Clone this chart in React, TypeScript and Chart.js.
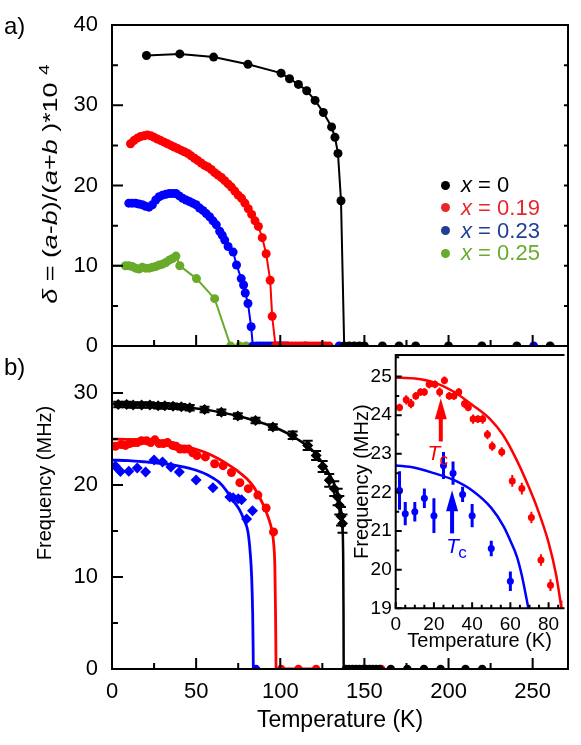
import React, { useEffect, useRef } from "react";
import { Chart, registerables } from "chart.js";
Chart.register(...registerables);

const FONT = '"Liberation Sans", Arial, sans-serif';

// ---------- axis ticks ----------
const tempTicks = [0, 50, 100, 150, 200, 250];
const tempMinorTicks = [25, 75, 125, 175, 225];
const deltaTicks = [0, 10, 20, 30, 40];
const deltaMinorTicks = [5, 15, 25, 35];
const freqTicks = [0, 10, 20, 30];
const freqMinorTicks = [5, 15, 25];
const insetTempTicks = [0, 20, 40, 60, 80];
const insetTempMinorTicks = [5, 10, 15, 25, 30, 35, 45, 50, 55, 65, 70, 75, 85];
const insetFreqTicks = [19, 20, 21, 22, 23, 24, 25];
const insetFreqMinorTicks = [19.5, 20.5, 21.5, 22.5, 23.5, 24.5, 25.5];

// ---------- panel a : distortion delta ----------
const aBlackT = [20.5, 40.3, 60.4, 80.8, 100.5, 105.5, 110.8, 115.7, 120.7, 125.6, 130.5, 132.5, 134.3, 136.1, 138, 141, 144, 147, 150, 160.7, 170.6, 180.5, 200, 219.8, 240.6, 260.4];
const aBlackV = [36.2, 36.4, 36.0, 35.1, 34.0, 33.3, 32.6, 31.8, 30.6, 29.1, 27.3, 26.0, 24.0, 18.1, 0, 0, 0, 0, 0, 0, 0, 0, 0, 0, 0, 0];

const aRedT = [11, 13, 15, 17, 19, 21, 23, 25, 27, 29, 31, 33, 35, 37, 39, 41, 43, 45, 47, 49, 51, 53, 55, 57, 59, 61, 63, 65, 67, 69, 71, 73, 75, 77, 79, 81, 83, 85, 87, 89.3, 91.6, 94, 95.2, 97.2, 99, 101, 103, 105, 107, 109, 111, 113, 115, 117, 119, 121, 123, 125, 127, 129];
const aRedV = [25.2, 25.6, 25.9, 26.1, 26.2, 26.3, 26.2, 26.0, 25.8, 25.6, 25.4, 25.2, 25.0, 24.8, 24.6, 24.4, 24.2, 24.0, 23.7, 23.4, 23.1, 22.8, 22.5, 22.3, 22.0, 21.6, 21.3, 21.0, 20.6, 20.2, 19.8, 19.3, 18.8, 18.4, 17.8, 17.1, 16.4, 15.6, 14.9, 13.5, 11.5, 8.2, 3.7, 0, 0, 0, 0, 0, 0, 0, 0, 0, 0, 0, 0, 0, 0, 0, 0, 0];

const aBlueT = [10, 12, 14, 16, 18, 20, 22, 24, 26, 28, 30, 32, 34, 36, 38, 40, 42, 44, 46, 48, 50, 52, 54, 56, 58, 60, 62, 64, 65.5, 67, 69, 72, 74, 76.8, 78.2, 79.2, 80.8, 82.7, 83.7, 86, 88, 90, 92, 94, 96, 98, 100, 102, 104, 115, 125, 135, 250.6];
const aBlueV = [17.8, 17.8, 17.8, 17.7, 17.6, 17.4, 17.3, 17.6, 18.2, 18.6, 18.8, 18.9, 19.0, 19.0, 19.0, 18.7, 18.4, 18.2, 18.0, 17.8, 17.6, 17.2, 16.9, 16.5, 16.1, 15.6, 15.1, 14.3, 13.8, 13.2, 12.4, 11.7, 10.1, 8.4, 7.6, 6.6, 5.3, 2.4, 0, 0, 0, 0, 0, 0, 0, 0, 0, 0, 0, 0, 0, 0, 0];

const aGreenT = [0, 8, 10, 12, 14, 16, 18, 20, 22, 24, 26, 28, 30, 32, 34, 36, 38, 40.3, 50.2, 61, 70.5, 75.8, 79.7];
const aGreenV = [10, 10.0, 10.0, 9.9, 9.7, 9.6, 9.8, 9.7, 9.7, 9.8, 9.9, 10.1, 10.2, 10.4, 10.7, 10.9, 11.2, 10.0, 8.4, 5.9, 0, 0, 0];

// ---------- panel b : muon precession frequency ----------
const bBlackT = [3.7, 8.7, 12.6, 17.6, 22.5, 27.4, 31.4, 36.3, 41.2, 46.2, 55, 65, 74.8, 85.3, 95.6, 107.4, 116.3, 121.3, 125.2, 129.1, 132.1, 134.1, 135.1, 136.1, 137];
const bBlackV = [28.75, 28.75, 28.7, 28.7, 28.7, 28.6, 28.6, 28.55, 28.5, 28.4, 28.2, 27.9, 27.5, 27.0, 26.3, 25.4, 24.3, 23.2, 22.0, 20.5, 19.6, 18.7, 17.8, 16.6, 15.8];
const bBlackErr = [0.3, 0.3, 0.3, 0.3, 0.3, 0.3, 0.3, 0.3, 0.3, 0.3, 0.3, 0.3, 0.3, 0.3, 0.3, 0.4, 0.5, 0.5, 0.6, 0.7, 0.8, 0.9, 1.0, 1.0, 1.0];

const bRedT = [2, 5.5, 8, 10.5, 13, 15, 17.5, 20.5, 23, 25.5, 28, 30.5, 33, 36, 38, 40.5, 43, 45.5, 48, 50.5, 55.5, 61, 66, 71, 76, 81, 86.7, 91.6, 96];
const bRedV = [24.2, 24.4, 24.3, 24.5, 24.6, 24.6, 24.8, 24.8, 24.6, 24.9, 24.5, 24.5, 24.6, 24.3, 24.2, 23.9, 23.9, 23.9, 23.5, 23.2, 23.05, 22.3, 22.1, 21.35, 20.25, 19.6, 18.9, 17.5, 14.9];
const bRedErr = [0.1, 0.12, 0.12, 0.1, 0.1, 0.1, 0.1, 0.1, 0.12, 0.1, 0.1, 0.1, 0.1, 0.12, 0.1, 0.12, 0.1, 0.12, 0.12, 0.12, 0.12, 0.15, 0.15, 0.15, 0.15, 0.15, 0.3, 0.3, 0.4];

const bBlueT = [2, 5, 10, 15, 20, 25, 30, 35, 40, 50, 60, 70, 72, 75, 77, 80, 83.5];
const bBlueV = [22.05, 21.45, 21.5, 21.85, 21.4, 22.7, 22.5, 21.95, 21.4, 20.55, 19.7, 18.7, 18.6, 18.5, 18.4, 16.3, 17.2];
const bBlueErr = [0.5, 0.3, 0.25, 0.25, 0.45, 0.35, 0.3, 0.2, 0.3, 0.2, 0.25, 0.3, 0.3, 0.3, 0.3, 0.4, 0.4];

const bBlackZeroT = [139, 141, 143, 145, 147, 149, 151, 153, 155, 157, 159, 165.7, 175.5, 185.4, 195.3, 210.1, 220];
const bBlackZeroV = [0, 0, 0, 0, 0, 0, 0, 0, 0, 0, 0, 0, 0, 0, 0, 0, 0];
const bRedZeroT = [100.5, 110.8, 121.3, 160];
const bRedZeroV = [0, 0, 0, 0];
const bBlueZeroT = [85.5];
const bBlueZeroV = [0];

// fitted order-parameter curves
const blackFitT = [0, 20, 40, 60, 80, 100, 110, 120, 125, 130, 133, 135, 136.3, 137, 137.4, 137.6, 137.7, 160];
const blackFitV = [28.8, 28.75, 28.5, 28.05, 27.25, 26.0, 25.0, 23.6, 22.4, 20.9, 19.6, 18.4, 17.0, 15.5, 12, 6, 0, 0];
const redFitT = [0, 10, 20, 30, 40, 50, 56, 63, 70, 74, 80, 84, 86.7, 90, 93, 95, 96, 96.8, 97.2, 97.4, 97.5, 122];
const redFitV = [24.98, 24.95, 24.85, 24.62, 24.27, 23.87, 23.5, 22.87, 22.1, 21.6, 20.7, 19.85, 19.0, 17.8, 16.4, 15.1, 13.8, 11, 6, 2, 0, 0];
const blueFitT = [0, 10, 20, 30, 40, 50, 56.6, 60, 63.4, 66, 69.4, 72, 75.8, 78.5, 80.8, 82.2, 83, 83.6, 83.9, 84, 88];
const blueFitV = [22.7, 22.64, 22.5, 22.33, 22.05, 21.6, 21.11, 20.75, 20.34, 19.85, 19.0, 18.3, 17.3, 16.2, 14.9, 12.5, 10, 6, 2, 0, 0];

// Tc markers in the inset (temperature, arrow base, arrow tip, label position)
const tcRed = { t: 23.6, base: 23.32, tip: 24.44, labelT: 16.7, labelF: 22.84 };
const tcBlue = { t: 29.5, base: 20.94, tip: 22.06, labelT: 26.5, labelF: 20.42 };

const legendItems = [
  { value: "0", color: "#000000", text: "#000000" },
  { value: "0.19", color: "#e8262b", text: "#e8262b" },
  { value: "0.23", color: "#1d3f94", text: "#1d3f94" },
  { value: "0.25", color: "#6aab2e", text: "#6aab2e" },
];

const RED = "#ff0000";
const BLUE = "#0000ff";
const GREEN = "#6aaa2a";
const BLACK = "#000000";

function pts(xs: number[], ys: number[]) {
  return xs.map((x, i) => ({ x, y: ys[i] }));
}

type TickSpec = { scale: string; side: string; values: number[]; len: number };

function framePlugin(sides: string[], ticks: TickSpec[], width: number) {
  return {
    id: "frame",
    afterDatasetsDraw(chart: any) {
      const { ctx, chartArea: ca, scales } = chart;
      ctx.save();
      ctx.strokeStyle = "#000";
      ctx.lineWidth = width;
      ctx.lineCap = "butt";
      ctx.beginPath();
      for (const t of ticks) {
        const sc = scales[t.scale];
        for (const v of t.values) {
          const p = sc.getPixelForValue(v);
          if (t.side === "left") { ctx.moveTo(ca.left, p); ctx.lineTo(ca.left + t.len, p); }
          else if (t.side === "right") { ctx.moveTo(ca.right, p); ctx.lineTo(ca.right - t.len, p); }
          else if (t.side === "bottom") { ctx.moveTo(p, ca.bottom); ctx.lineTo(p, ca.bottom - t.len); }
          else { ctx.moveTo(p, ca.top); ctx.lineTo(p, ca.top + t.len); }
        }
      }
      ctx.stroke();
      ctx.lineCap = "square";
      ctx.beginPath();
      if (sides.includes("top")) { ctx.moveTo(ca.left, ca.top); ctx.lineTo(ca.right, ca.top); }
      if (sides.includes("bottom")) { ctx.moveTo(ca.left, ca.bottom); ctx.lineTo(ca.right, ca.bottom); }
      if (sides.includes("left")) { ctx.moveTo(ca.left, ca.top); ctx.lineTo(ca.left, ca.bottom); }
      if (sides.includes("right")) { ctx.moveTo(ca.right, ca.top); ctx.lineTo(ca.right, ca.bottom); }
      ctx.stroke();
      ctx.restore();
    },
  };
}

const errorBarPlugin = {
  id: "errbars",
  beforeDatasetsDraw(chart: any) {
    const { ctx, chartArea: ca } = chart;
    ctx.save();
    ctx.beginPath();
    ctx.rect(ca.left, ca.top, ca.right - ca.left, ca.bottom - ca.top);
    ctx.clip();
    chart.data.datasets.forEach((ds: any, i: number) => {
      if (!ds.errors) return;
      const meta = chart.getDatasetMeta(i);
      const xs = chart.scales[meta.xAxisID];
      const ys = chart.scales[meta.yAxisID];
      ctx.strokeStyle = ds.borderColor;
      ctx.lineWidth = ds.errWidth || 1.5;
      ctx.lineCap = "butt";
      ds.data.forEach((p: any, j: number) => {
        const e = ds.errors[j];
        if (!e) return;
        const px = xs.getPixelForValue(p.x);
        const y1 = ys.getPixelForValue(p.y + e);
        const y2 = ys.getPixelForValue(p.y - e);
        ctx.beginPath();
        ctx.moveTo(px, y1);
        ctx.lineTo(px, y2);
        if (ds.errCap) {
          ctx.moveTo(px - ds.errCap, y1); ctx.lineTo(px + ds.errCap, y1);
          ctx.moveTo(px - ds.errCap, y2); ctx.lineTo(px + ds.errCap, y2);
        }
        ctx.stroke();
      });
    });
    ctx.restore();
  },
};

const whiteBgPlugin = {
  id: "whitebg",
  beforeDraw(chart: any) {
    const { ctx, width, height } = chart;
    ctx.save();
    ctx.fillStyle = "#ffffff";
    ctx.fillRect(0, 0, width, height);
    ctx.restore();
  },
};

function tcPlugin(items: { t: number; base: number; tip: number; labelT: number; labelF: number; color: string }[]) {
  return {
    id: "tc",
    afterDatasetsDraw(chart: any) {
      const { ctx } = chart;
      const x = chart.scales.x;
      const y = chart.scales.y;
      ctx.save();
      for (const it of items) {
        const px = x.getPixelForValue(it.t);
        const pb = y.getPixelForValue(it.base);
        const pt = y.getPixelForValue(it.tip);
        ctx.strokeStyle = it.color;
        ctx.fillStyle = it.color;
        ctx.lineWidth = 4;
        ctx.beginPath();
        ctx.moveTo(px, pb);
        ctx.lineTo(px, pt + 18);
        ctx.stroke();
        ctx.beginPath();
        ctx.moveTo(px, pt);
        ctx.lineTo(px - 6, pt + 21);
        ctx.lineTo(px + 6, pt + 21);
        ctx.closePath();
        ctx.fill();
        const lx = x.getPixelForValue(it.labelT);
        const ly = y.getPixelForValue(it.labelF);
        ctx.textBaseline = "alphabetic";
        ctx.textAlign = "left";
        ctx.font = `italic 21px ${FONT}`;
        ctx.fillText("T", lx, ly);
        const w = ctx.measureText("T").width;
        ctx.font = `17px ${FONT}`;
        ctx.fillText("c", lx + w - 1, ly + 5);
      }
      ctx.restore();
    },
  };
}

function fixedY(width: number, ticks: number[]) {
  return {
    afterFit: (s: any) => { s.width = width; s.paddingTop = 0; s.paddingBottom = 0; },
    afterBuildTicks: (s: any) => { s.ticks = ticks.map((v) => ({ value: v })); },
  };
}
function fixedX(height: number, ticks: number[]) {
  return {
    afterFit: (s: any) => { s.height = height; s.paddingLeft = 0; s.paddingRight = 0; },
    afterBuildTicks: (s: any) => { s.ticks = ticks.map((v) => ({ value: v })); },
  };
}

function pointSet(label: string, T: number[], V: number[], color: string, radius: any, extra: any = {}) {
  return {
    label,
    data: pts(T, V),
    showLine: true,
    borderColor: color,
    backgroundColor: color,
    pointBackgroundColor: color,
    pointBorderWidth: 0,
    pointRadius: radius,
    pointHoverRadius: radius,
    borderWidth: 2,
    tension: 0,
    clip: 0,
    ...extra,
  };
}

function fitSet(label: string, T: number[], V: number[], color: string, width: number) {
  return {
    label,
    data: pts(T, V),
    showLine: true,
    borderColor: color,
    backgroundColor: color,
    pointRadius: 0,
    pointHoverRadius: 0,
    borderWidth: width,
    cubicInterpolationMode: "monotone",
    clip: 0,
  };
}

const tickFont = (size: number) => ({ family: FONT, size });
const noGrid = { display: false, drawTicks: false };

export default function App() {
  const refA = useRef<HTMLCanvasElement>(null);
  const refB = useRef<HTMLCanvasElement>(null);
  const refI = useRef<HTMLCanvasElement>(null);

  useEffect(() => {
    const greenRadius = aGreenT.map((_, i) => (i === 0 ? 0 : 4.5));
    const chartA = new Chart(refA.current!, {
      type: "scatter",
      data: {
        datasets: [
          pointSet("x = 0", aBlackT, aBlackV, BLACK, 4.5),
          pointSet("x = 0.19", aRedT, aRedV, RED, 4.5),
          pointSet("x = 0.23", aBlueT, aBlueV, BLUE, 4.5),
          pointSet("x = 0.25", aGreenT, aGreenV, GREEN, greenRadius),
        ] as any,
      },
      options: {
        animation: false,
        responsive: false,
        devicePixelRatio: 1,
        events: [],
        layout: { padding: { top: 25, bottom: 14, left: 0, right: 13 } },
        plugins: { legend: { display: false }, tooltip: { enabled: false } },
        scales: {
          x: { type: "linear", min: 0, max: 271, display: false },
          y: {
            type: "linear", min: 0, max: 40,
            ...fixedY(112, deltaTicks),
            grid: noGrid, border: { display: false },
            ticks: { padding: 14, color: "#000", font: tickFont(22) },
          },
        },
      } as any,
      plugins: [
        framePlugin(["top", "left", "bottom", "right"], [
          { scale: "y", side: "left", values: deltaTicks, len: 11 },
          { scale: "y", side: "left", values: deltaMinorTicks, len: 6 },
          { scale: "y", side: "right", values: deltaTicks.concat(deltaMinorTicks), len: 4 },
          { scale: "x", side: "bottom", values: tempTicks, len: 11 },
          { scale: "x", side: "bottom", values: tempMinorTicks, len: 6 },
        ], 2),
      ],
    });

    const chartB = new Chart(refB.current!, {
      type: "scatter",
      data: {
        datasets: [
          pointSet("x = 0 data", bBlackT, bBlackV, BLACK, 5.5, { showLine: false, pointStyle: "rectRot", errors: bBlackErr, errWidth: 2, errCap: 5 }),
          fitSet("x = 0 fit", blackFitT, blackFitV, BLACK, 2.5),
          pointSet("x = 0.19 data", bRedT, bRedV, RED, 4.5, { showLine: false, errors: bRedErr, errWidth: 2 }),
          fitSet("x = 0.19 fit", redFitT, redFitV, RED, 2.8),
          pointSet("x = 0.23 data", bBlueT, bBlueV, BLUE, 5.5, { showLine: false, pointStyle: "rectRot", errors: bBlueErr, errWidth: 2.5 }),
          fitSet("x = 0.23 fit", blueFitT, blueFitV, BLUE, 2.8),
          pointSet("x = 0 zero", bBlackZeroT, bBlackZeroV, BLACK, 4.3, { showLine: false }),
          pointSet("x = 0.19 zero", bRedZeroT, bRedZeroV, RED, 4.3, { showLine: false }),
          pointSet("x = 0.23 zero", bBlueZeroT, bBlueZeroV, BLUE, 4.3, { showLine: false }),
        ] as any,
      },
      options: {
        animation: false,
        responsive: false,
        devicePixelRatio: 1,
        events: [],
        layout: { padding: { top: 10, bottom: 0, left: 0, right: 13 } },
        plugins: { legend: { display: false }, tooltip: { enabled: false } },
        scales: {
          x: {
            type: "linear", min: 0, max: 271,
            ...fixedX(76, tempTicks),
            grid: noGrid, border: { display: false },
            ticks: { padding: 10, color: "#000", font: tickFont(22), autoSkip: false, maxRotation: 0 },
            title: { display: true, text: "Temperature (K)", color: "#000", font: { family: FONT, size: 23 }, padding: { top: 0, bottom: 11 } },
          },
          y: {
            type: "linear", min: 0, max: 35.1,
            ...fixedY(112, freqTicks),
            grid: noGrid, border: { display: false },
            ticks: { padding: 14, color: "#000", font: tickFont(22) },
          },
        },
      } as any,
      plugins: [
        errorBarPlugin,
        framePlugin(["top", "left", "bottom", "right"], [
          { scale: "y", side: "left", values: freqTicks, len: 11 },
          { scale: "y", side: "left", values: freqMinorTicks, len: 6 },
          { scale: "x", side: "bottom", values: tempTicks, len: 11 },
          { scale: "x", side: "bottom", values: tempMinorTicks, len: 6 },
        ], 2),
      ],
    });

    const chartI = new Chart(refI.current!, {
      type: "scatter",
      data: {
        datasets: [
          pointSet("x = 0.19 data", bRedT, bRedV, RED, 3.5, { showLine: false, errors: bRedErr, errWidth: 2 }),
          pointSet("x = 0.23 data", bBlueT, bBlueV, BLUE, 3.5, { showLine: false, errors: bBlueErr, errWidth: 3 }),
          fitSet("x = 0.19 fit", redFitT, redFitV, RED, 2.5),
          fitSet("x = 0.23 fit", blueFitT, blueFitV, BLUE, 2.5),
        ] as any,
      },
      options: {
        animation: false,
        responsive: false,
        devicePixelRatio: 1,
        events: [],
        layout: { padding: { top: 7, bottom: 0, left: 0, right: 0 } },
        plugins: { legend: { display: false }, tooltip: { enabled: false } },
        scales: {
          x: {
            type: "linear", min: 0, max: 87.8,
            ...fixedX(48.7, insetTempTicks),
            grid: noGrid, border: { display: false },
            ticks: { padding: 5, color: "#000", font: tickFont(19), autoSkip: false, maxRotation: 0 },
            title: { display: true, text: "Temperature (K)", color: "#000", font: { family: FONT, size: 20 }, padding: { top: 0, bottom: 4 } },
          },
          y: {
            type: "linear", min: 19, max: 25.56,
            ...fixedY(45.7, insetFreqTicks),
            grid: noGrid, border: { display: false },
            ticks: { padding: 4, color: "#000", font: tickFont(19) },
            title: { display: true, text: "Frequency (MHz)", color: "#000", font: { family: FONT, size: 20 }, padding: { top: 0, bottom: 0 } },
          },
        },
      } as any,
      plugins: [
        whiteBgPlugin,
        errorBarPlugin,
        framePlugin(["top", "left", "bottom"], [
          { scale: "y", side: "left", values: insetFreqTicks, len: 6 },
          { scale: "y", side: "left", values: insetFreqMinorTicks, len: 3.5 },
          { scale: "x", side: "bottom", values: insetTempTicks, len: 6 },
          { scale: "x", side: "bottom", values: insetTempMinorTicks, len: 3.5 },
        ], 2),
        tcPlugin([
          { ...tcRed, color: RED },
          { ...tcBlue, color: BLUE },
        ]),
      ],
    });

    return () => {
      chartA.destroy();
      chartB.destroy();
      chartI.destroy();
    };
  }, []);

  const textBase: React.CSSProperties = { position: "absolute", fontFamily: FONT, color: "#000", whiteSpace: "nowrap", lineHeight: 1 };

  return (
    <div style={{ position: "fixed", left: 0, top: 0, width: 581, height: 745, background: "#fff", overflow: "hidden" }}>
      <canvas ref={refA} width={581} height={360} style={{ position: "absolute", left: 0, top: 0, width: 581, height: 360 }} />
      <canvas ref={refB} width={581} height={409} style={{ position: "absolute", left: 0, top: 336, width: 581, height: 409 }} />
      <canvas ref={refI} width={217} height={309} style={{ position: "absolute", left: 350, top: 348, width: 217, height: 309 }} />

      <div style={{ ...textBase, left: 4, top: 14, fontSize: 24 }}>a)</div>
      <div style={{ ...textBase, left: 4, top: 355, fontSize: 24 }}>b)</div>

      <div style={{ ...textBase, left: 48, top: 184, fontSize: 21, transform: "translate(-50%, -50%) rotate(-90deg) scaleX(1.28)" }}>
        <i>δ</i> = (<i>a</i>-<i>b</i>)/(<i>a</i>+<i>b</i> )*10 <sup style={{ fontSize: 15 }}>4</sup>
      </div>
      <div style={{ ...textBase, left: 44, top: 483, fontSize: 20, transform: "translate(-50%, -50%) rotate(-90deg)" }}>
        Frequency (MHz)
      </div>

      {legendItems.map((it, i) => (
        <div key={it.value} style={{ position: "absolute", left: 441, top: 173.5 + i * 22.8, height: 23, display: "flex", alignItems: "center" }}>
          <span style={{ display: "inline-block", width: 9, height: 9, borderRadius: "50%", background: it.color, marginRight: 11 }} />
          <span style={{ fontFamily: FONT, fontSize: 22, color: it.text, whiteSpace: "nowrap", lineHeight: 1 }}>
            <i>x</i> = {it.value}
          </span>
        </div>
      ))}
    </div>
  );
}
